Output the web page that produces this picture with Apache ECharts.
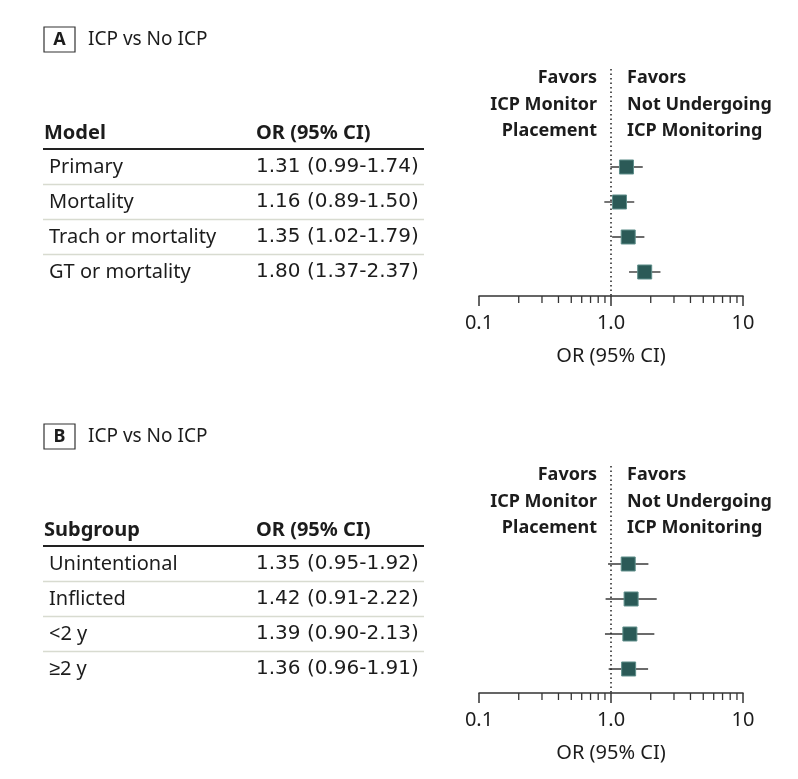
<!DOCTYPE html>
<html>
<head>
<meta charset="utf-8">
<script src="https://cdn.jsdelivr.net/npm/echarts@6/dist/echarts.min.js"></script>
<style>
html,body{margin:0;padding:0;background:#fff;}
#chart{width:798px;height:779px;}
</style>
</head>
<body>
<div id="chart"></div>
<script>
// ---- Data ----
const panelLetters = ['A', 'B'];
const panelTitles = ['ICP vs No ICP', 'ICP vs No ICP'];
const firstColHeaders = ['Model', 'Subgroup'];
const secondColHeader = 'OR (95% CI)';

const modelsA = ['Primary', 'Mortality', 'Trach or mortality', 'GT or mortality'];
const orA = [1.31, 1.16, 1.35, 1.80];
const lowA = [0.99, 0.89, 1.02, 1.37];
const highA = [1.74, 1.50, 1.79, 2.37];
const ciTextA = ['1.31 (0.99-1.74)', '1.16 (0.89-1.50)', '1.35 (1.02-1.79)', '1.80 (1.37-2.37)'];

const subgroupsB = ['Unintentional', 'Inflicted', '<2 y', '\u22652 y'];
const orB = [1.35, 1.42, 1.39, 1.36];
const lowB = [0.95, 0.91, 0.90, 0.96];
const highB = [1.92, 2.22, 2.13, 1.91];
const ciTextB = ['1.35 (0.95-1.92)', '1.42 (0.91-2.22)', '1.39 (0.90-2.13)', '1.36 (0.96-1.91)'];

const favorsLeft = ['Favors', 'ICP Monitor', 'Placement'];
const favorsRight = ['Favors', 'Not Undergoing', 'ICP Monitoring'];

const majorTicks = [0.1, 1, 10];
const tickLabels = ['0.1', '1.0', '10'];
const minorTicks = [0.2, 0.3, 0.4, 0.5, 0.6, 0.7, 0.8, 0.9, 2, 3, 4, 5, 6, 7, 8, 9];
const axisTitle = 'OR (95% CI)';

// ---- Layout ----
const FONT = '"Noto Sans", sans-serif';
const NUMFONT = '"DejaVu Sans", sans-serif';
const TXT = '#1c1c1c';
const BOX = '#2b5a57';
const Y_MIN = -3, Y_MAX = 3.686;
const GRID_LEFT = 479, GRID_RIGHT = 55, GRID_H = 234;
const panelTop = [62, 459];
const rowH = 35;

const panels = [
  {labels: modelsA, or: orA, lo: lowA, hi: highA, txt: ciTextA},
  {labels: subgroupsB, or: orB, lo: lowB, hi: highB, txt: ciTextB}
];

const grids = [], xAxes = [], yAxes = [], series = [], graphics = [];

panels.forEach((p, k) => {
  const top = panelTop[k];
  grids.push({left: GRID_LEFT, right: GRID_RIGHT, top: top, height: GRID_H, containLabel: false});
  xAxes.push({
    type: 'log', logBase: 10, min: 0.1, max: 10, gridIndex: k, position: 'bottom',
    axisLine: {show: true, onZero: false, lineStyle: {color: '#333', width: 1.5}},
    axisTick: {show: true, length: 10, inside: false, lineStyle: {color: '#333', width: 1.5}},
    splitLine: {show: false},
    axisLabel: {
      show: true, margin: 17, fontSize: 20, fontFamily: FONT, color: TXT,
      formatter: v => {
        const i = majorTicks.findIndex(t => Math.abs(Math.log10(t) - Math.log10(v)) < 1e-6);
        return i >= 0 ? tickLabels[i] : '';
      }
    },
    name: axisTitle, nameLocation: 'middle', nameGap: 50,
    nameTextStyle: {fontSize: 20, fontFamily: FONT, color: TXT}
  });
  yAxes.push({type: 'value', gridIndex: k, inverse: true, min: Y_MIN, max: Y_MAX, show: false});

  // CI whiskers + reference line
  series.push({
    type: 'custom', xAxisIndex: k, yAxisIndex: k, clip: false, z: 2,
    data: p.or.map((v, i) => [p.lo[i], p.hi[i], i]),
    renderItem: (params, api) => {
      const a = api.coord([api.value(0), api.value(2)]);
      const b = api.coord([api.value(1), api.value(2)]);
      return {type: 'line', shape: {x1: a[0], y1: a[1], x2: b[0], y2: b[1]},
              style: {stroke: '#3a3a3a', lineWidth: 1.4}};
    },
    markLine: {
      silent: true, symbol: 'none', label: {show: false},
      lineStyle: {type: [1.5, 3], color: '#222', width: 1.5},
      data: [[{coord: [1, -2.8]}, {coord: [1, Y_MAX]}]]
    }
  });
  // Point estimates
  series.push({
    type: 'scatter', xAxisIndex: k, yAxisIndex: k, z: 3,
    symbol: 'rect', symbolSize: 14,
    itemStyle: {color: BOX, borderColor: '#5f8f8b', borderWidth: 1, opacity: 1},
    data: p.or.map((v, i) => [v, i])
  });
  // Minor ticks
  series.push({
    type: 'custom', xAxisIndex: k, yAxisIndex: k, clip: false, z: 4,
    data: minorTicks.map(v => [v, Y_MAX]),
    renderItem: (params, api) => {
      const c = api.coord([api.value(0), api.value(1)]);
      return {type: 'line', shape: {x1: c[0], y1: c[1], x2: c[0], y2: c[1] + 7},
              style: {stroke: '#333', lineWidth: 1.3}};
    }
  });

  // ---- Table and headers (graphic) ----
  const row0 = top + (0 - Y_MIN) * rowH;
  const dy = top - panelTop[0];
  graphics.push({type: 'rect', shape: {x: 44, y: 27 + dy, width: 31, height: 25},
    style: {fill: 'none', stroke: '#333', lineWidth: 1.2}});
  graphics.push({type: 'text', x: 59.5, y: 40 + dy,
    style: {text: panelLetters[k], font: 'bold 18px ' + FONT, fill: TXT, align: 'center', verticalAlign: 'middle'}});
  graphics.push({type: 'text', x: 88, y: 40 + dy,
    style: {text: panelTitles[k], font: '19px ' + FONT, fill: TXT, align: 'left', verticalAlign: 'middle'}});
  const hy = row0 - 34;
  graphics.push({type: 'text', x: 44, y: hy,
    style: {text: firstColHeaders[k], font: 'bold 20px ' + FONT, fill: TXT, verticalAlign: 'middle'}});
  graphics.push({type: 'text', x: 256, y: hy,
    style: {text: secondColHeader, font: 'bold 20px ' + FONT, fill: TXT, verticalAlign: 'middle'}});
  graphics.push({type: 'line', shape: {x1: 43, y1: row0 - 18, x2: 424, y2: row0 - 18},
    style: {stroke: '#222', lineWidth: 2}});
  p.labels.forEach((lab, i) => {
    const y = row0 + i * rowH;
    graphics.push({type: 'text', x: 49, y: y,
      style: {text: lab, font: '20px ' + FONT, fill: TXT, verticalAlign: 'middle'}});
    graphics.push({type: 'text', x: 256, y: y,
      style: {text: p.txt[i], font: '20px ' + NUMFONT, fill: TXT, verticalAlign: 'middle'}});
    if (i < p.labels.length - 1) {
      graphics.push({type: 'line', shape: {x1: 43, y1: y + 17.5, x2: 424, y2: y + 17.5},
        style: {stroke: '#d8dbd0', lineWidth: 1.5}});
    }
  });
  favorsLeft.forEach((t, i) => {
    graphics.push({type: 'text', x: 597, y: 78 + dy + i * 26.5,
      style: {text: t, font: 'bold 18px ' + FONT, fill: TXT, align: 'right', verticalAlign: 'middle'}});
  });
  favorsRight.forEach((t, i) => {
    graphics.push({type: 'text', x: 627, y: 78 + dy + i * 26.5,
      style: {text: t, font: 'bold 18px ' + FONT, fill: TXT, align: 'left', verticalAlign: 'middle'}});
  });
});

const chart = echarts.init(document.getElementById('chart'), null, {renderer: 'canvas'});
chart.setOption({
  animation: false,
  backgroundColor: '#ffffff',
  grid: grids, xAxis: xAxes, yAxis: yAxes, series: series,
  graphic: {elements: graphics}
});
</script>
</body>
</html>
